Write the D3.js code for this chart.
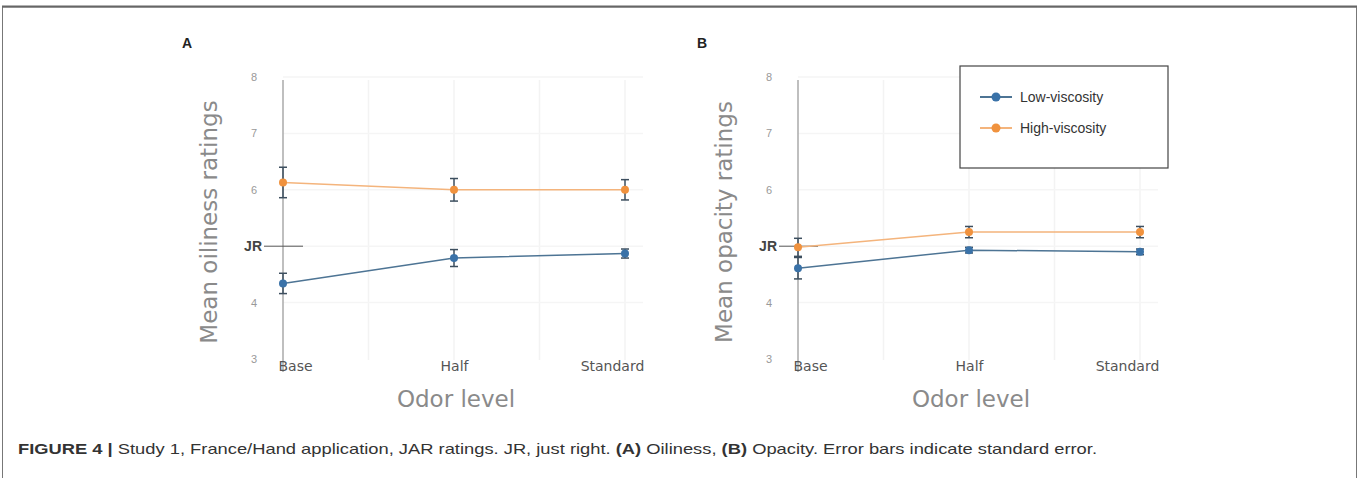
<!DOCTYPE html>
<html>
<head>
<meta charset="utf-8">
<script src="https://cdn.jsdelivr.net/npm/d3@7"></script>
<style>
  body { margin: 0; background: #fff; }
  svg { display: block; }
</style>
</head>
<body>
<svg id="fig" width="1359" height="478"></svg>
<script>
// odor levels on the x axis
const levels = ['Base', 'Half', 'Standard'];
const seriesNames = ['Low-viscosity', 'High-viscosity'];
const yTicks = [3, 4, 5, 6, 7, 8];

// panel A: oiliness
const oilLow = [4.34, 4.79, 4.87];
const oilLowErr = [0.18, 0.15, 0.08];
const oilHigh = [6.13, 6.0, 6.0];
const oilHighErr = [0.27, 0.2, 0.18];

// panel B: opacity
const opaLow = [4.61, 4.93, 4.9];
const opaLowErr = [0.19, 0.05, 0.05];
const opaHigh = [4.98, 5.25, 5.25];
const opaHighErr = [0.16, 0.1, 0.1];

const blue = '#3a72a8';
const orange = '#f0923e';
const lineCol = {'Low-viscosity': '#4d7494', 'High-viscosity': '#f4b47c'};
const dotCol = {'Low-viscosity': blue, 'High-viscosity': orange};

const svg = d3.select('#fig');

// frame around the whole figure
svg.append('rect')
  .attr('x', 2.5).attr('y', 7).attr('width', 1354).attr('height', 480)
  .attr('fill', 'none').attr('stroke', '#777').attr('stroke-width', 1);
svg.append('line').attr('x1', 2).attr('x2', 1357).attr('y1', 6.5).attr('y2', 6.5)
  .attr('stroke', '#666').attr('stroke-width', 2);

function drawPanel(letter, x0, yTitle, low, lowErr, high, highErr) {
  const g = svg.append('g');
  const x = d3.scalePoint().domain(levels).range([x0, x0 + 342]);
  const y = d3.scaleLinear().domain([3, 8]).range([359, 77]);

  // light grid
  const half = (x('Half') - x('Base')) / 2;
  const gx = d3.range(1, 5).map(i => x0 + i * half);
  g.selectAll('.vg').data(gx).enter().append('line')
    .attr('x1', d => d).attr('x2', d => d).attr('y1', 80).attr('y2', 360)
    .attr('stroke', '#f3f3f3').attr('stroke-width', 1.5);
  g.selectAll('.hg').data([4, 5, 6, 7, 8]).enter().append('line')
    .attr('x1', x0).attr('x2', x0 + 360).attr('y1', d => y(d)).attr('y2', d => y(d))
    .attr('stroke', '#f5f5f5').attr('stroke-width', 1.5);

  // y axis
  const yAxis = d3.axisLeft(y).tickValues(yTicks).tickSize(0).tickPadding(26)
    .tickFormat(d => d === 5 ? 'JR' : d);
  const ya = g.append('g').attr('transform', `translate(${x0},0)`).call(yAxis);
  ya.select('.domain').remove();
  ya.selectAll('text')
    .attr('font-family', 'Liberation Sans, Arial, sans-serif')
    .attr('font-size', d => d === 5 ? 14 : 11)
    .attr('font-weight', d => d === 5 ? 'bold' : 'normal')
    .attr('fill', d => d === 5 ? '#444' : '#999')
    .attr('dx', d => d === 5 ? 5 : 0);
  g.append('line').attr('x1', x0).attr('x2', x0).attr('y1', 80).attr('y2', 372)
    .attr('stroke', '#aaa').attr('stroke-width', 1.5);
  // JR reference tick
  g.append('line').attr('x1', x0 - 19).attr('x2', x0 + 20).attr('y1', y(5)).attr('y2', y(5))
    .attr('stroke', '#555').attr('stroke-width', 1);

  // x axis labels (end labels pulled inside the plot)
  const xAxis = d3.axisBottom(x).tickSize(0).tickPadding(2);
  const xa = g.append('g').attr('transform', 'translate(0,359)').call(xAxis);
  xa.select('.domain').remove();
  xa.selectAll('text')
    .attr('font-family', 'DejaVu Sans, sans-serif')
    .attr('font-size', 14).attr('fill', '#555')
    .attr('dx', d => d === 'Base' ? 12 : d === 'Standard' ? -13 : 0);

  // titles
  g.append('text').attr('x', x('Half') + 2).attr('y', 407).attr('text-anchor', 'middle')
    .attr('font-family', 'DejaVu Sans, sans-serif').attr('font-size', 23)
    .attr('fill', '#8a8a8a').text('Odor level');
  g.append('text').attr('transform', `translate(${x0 - 66},222) rotate(-90)`)
    .attr('text-anchor', 'middle')
    .attr('font-family', 'DejaVu Sans, sans-serif').attr('font-size', 23)
    .attr('fill', '#8a8a8a').text(yTitle);
  g.append('text').attr('x', x0 - 101).attr('y', 48)
    .attr('font-family', 'Liberation Sans, Arial, sans-serif')
    .attr('font-size', 14).attr('font-weight', 'bold').attr('fill', '#222').text(letter);

  const series = [
    {name: 'Low-viscosity', v: low, e: lowErr},
    {name: 'High-viscosity', v: high, e: highErr}
  ];
  const line = d3.line().x((d, i) => x(levels[i])).y(d => y(d));
  series.forEach(s => {
    g.append('path').datum(s.v).attr('d', line)
      .attr('fill', 'none').attr('stroke', lineCol[s.name]).attr('stroke-width', 1.5);
    const pts = s.v.map((v, i) => ({lv: levels[i], v: v, e: s.e[i]}));
    const eb = g.selectAll(null).data(pts).enter().append('g');
    eb.append('line').attr('x1', d => x(d.lv)).attr('x2', d => x(d.lv))
      .attr('y1', d => y(d.v - d.e)).attr('y2', d => y(d.v + d.e))
      .attr('stroke', '#3d4f5f').attr('stroke-width', 1.5);
    [-1, 1].forEach(sg => {
      eb.append('line').attr('x1', d => x(d.lv) - 4).attr('x2', d => x(d.lv) + 4)
        .attr('y1', d => y(d.v + sg * d.e)).attr('y2', d => y(d.v + sg * d.e))
        .attr('stroke', '#3d4f5f').attr('stroke-width', 1.5);
    });
    eb.append('circle').attr('cx', d => x(d.lv)).attr('cy', d => y(d.v)).attr('r', 4)
      .attr('fill', dotCol[s.name]);
  });
  return g;
}

drawPanel('A', 283, 'Mean oiliness ratings', oilLow, oilLowErr, oilHigh, oilHighErr);
drawPanel('B', 798, 'Mean opacity ratings', opaLow, opaLowErr, opaHigh, opaHighErr);

// legend
const lg = svg.append('g');
lg.append('rect').attr('x', 960).attr('y', 66).attr('width', 208).attr('height', 102)
  .attr('fill', '#fff').attr('stroke', '#444').attr('stroke-width', 1.2);
seriesNames.forEach((n, i) => {
  const yy = 97 + i * 31;
  lg.append('line').attr('x1', 980).attr('x2', 1012).attr('y1', yy).attr('y2', yy)
    .attr('stroke', lineCol[n]).attr('stroke-width', 2);
  lg.append('circle').attr('cx', 996).attr('cy', yy).attr('r', 4.5).attr('fill', dotCol[n]);
  lg.append('text').attr('x', 1020).attr('y', yy + 5)
    .attr('font-family', 'Liberation Sans, Arial, sans-serif').attr('font-size', 14)
    .attr('fill', '#333').text(n);
});

// caption (narrow face in the original, so stretch to its width)
const cap = svg.append('text').attr('x', 18).attr('y', 454)
  .attr('font-family', 'Liberation Sans, Arial, sans-serif')
  .attr('font-size', 15).attr('fill', '#333')
  .attr('textLength', 1079).attr('lengthAdjust', 'spacingAndGlyphs');
cap.append('tspan').attr('font-weight', 'bold').text('FIGURE 4 | ');
cap.append('tspan').text('Study 1, France/Hand application, JAR ratings. JR, just right. ');
cap.append('tspan').attr('font-weight', 'bold').text('(A)');
cap.append('tspan').text(' Oiliness, ');
cap.append('tspan').attr('font-weight', 'bold').text('(B)');
cap.append('tspan').text(' Opacity. Error bars indicate standard error.');
</script>
</body>
</html>
